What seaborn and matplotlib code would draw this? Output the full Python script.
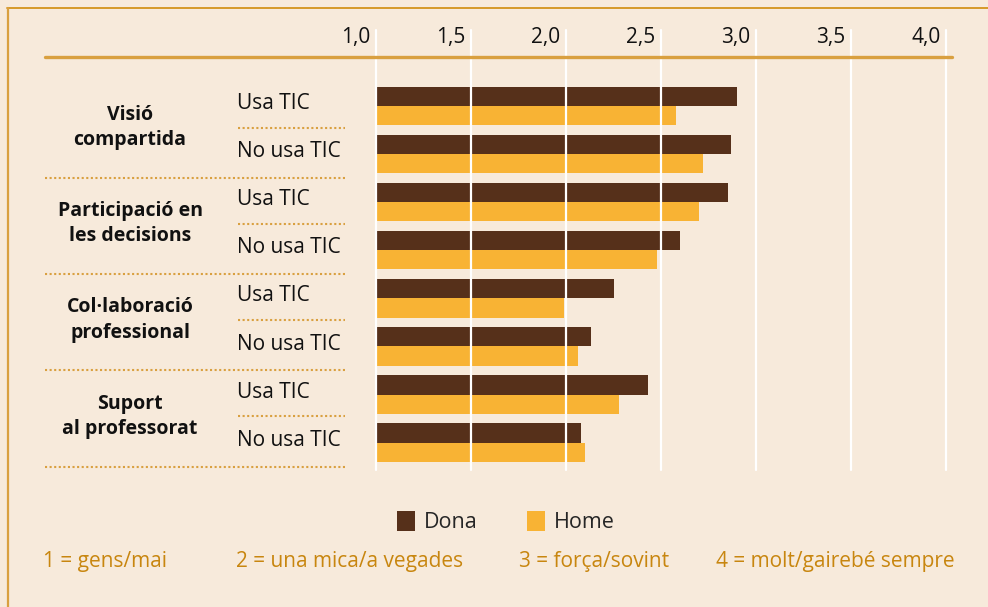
import seaborn as sns
import matplotlib.pyplot as plt
import matplotlib.transforms as mtransforms
from matplotlib.lines import Line2D
import pandas as pd

dimensions = ["Visió\ncompartida", "Participació en\nles decisions",
              "Col·laboració\nprofessional", "Suport\nal professorat"]
usage = ["Usa TIC", "No usa TIC"]
dona = [2.90, 2.87, 2.85, 2.60, 2.25, 2.13, 2.43, 2.08]
home = [2.58, 2.72, 2.70, 2.48, 1.99, 2.06, 2.28, 2.10]
ticks = [1.0, 1.5, 2.0, 2.5, 3.0, 3.5, 4.0]
tick_labels = ["1,0", "1,5", "2,0", "2,5", "3,0", "3,5", "4,0"]
scale_notes = ["1 = gens/mai", "2 = una mica/a vegades", "3 = força/sovint", "4 = molt/gairebé sempre"]

bg = "#f7eadb"
brown = "#56301a"
yellow = "#f8b334"
orange = "#d9a040"
note_col = "#c8860f"

rows = [f"{d}|{u}" for d in dimensions for u in usage]
df = pd.DataFrame({
    "row": rows * 2,
    "value": dona + home,
    "sexe": ["Dona"] * len(rows) + ["Home"] * len(rows),
})

sns.set_style("white")
plt.rcParams["font.family"] = ["Open Sans", "DejaVu Sans"]

W, H = 988, 607
fig = plt.figure(figsize=(W / 100, H / 100), dpi=100, facecolor=bg)


def fx(px):
    return px / W


def fy(py):
    return 1 - py / H


ax = fig.add_axes([fx(376), fy(470), fx(952) - fx(376), fy(30) - fy(470)])
ax.set_facecolor(bg)
sns.barplot(data=df, y="row", x="value", hue="sexe", orient="h",
            palette=[brown, yellow], width=0.8, saturation=1, linewidth=0,
            order=rows, hue_order=["Dona", "Home"], ax=ax)
ax.set_xlim(1.0, 4.03)
ax.set_ylim(7.57, -1.58)
ax.set_xticks([])
ax.set_yticks([])
ax.set_xlabel("")
ax.set_ylabel("")
for s in ax.spines.values():
    s.set_visible(False)

for t, lab in zip(ticks, tick_labels):
    ax.axvline(t, color="white", lw=1.6, zorder=5, clip_on=False)
    ax.annotate(lab, xy=(t, 0.982), xycoords=("data", "axes fraction"),
                xytext=(-4, 0), textcoords="offset points",
                ha="right", va="center", fontsize=15, color="#111111")

# legend
sns.move_legend(ax, "center", bbox_to_anchor=(fx(506), fy(522)),
                bbox_transform=fig.transFigure, ncol=2, frameon=False,
                title=None, fontsize=15.5, handlelength=0.85, handleheight=1.1,
                handletextpad=0.4, columnspacing=2.3)

# row labels
tr = mtransforms.blended_transform_factory(fig.transFigure, ax.transData)
for i, r in enumerate(rows):
    ax.text(fx(237), i - 0.05, r.split("|")[1], transform=tr, ha="left",
            va="center", fontsize=15, color="#111111")
for k, d in enumerate(dimensions):
    ax.text(fx(130), 2 * k + 0.45, d, transform=tr, ha="center", va="center",
            fontsize=14, fontweight="bold", color="#111111",
            multialignment="center", linespacing=1.35)
    ax.add_line(Line2D([fx(238), fx(345)], [2 * k + 0.45] * 2, transform=tr,
                       color=orange, lw=1.5, ls=(0, (1, 1.2)), clip_on=False))
    ax.add_line(Line2D([fx(45), fx(345)], [2 * k + 1.5] * 2, transform=tr,
                       color=orange, lw=1.5, ls=(0, (1, 1.2)), clip_on=False))

# frame lines
fig.add_artist(Line2D([fx(45), fx(952)], [fy(57), fy(57)], color=orange, lw=2.4))
fig.add_artist(Line2D([fx(7), fx(W)], [fy(8), fy(8)], color="#d4931a", lw=1.3))
fig.add_artist(Line2D([fx(7.5), fx(7.5)], [fy(8), 0], color=orange, lw=1.6))

# scale notes
for x0, note in zip([43, 236, 519, 716], scale_notes):
    fig.text(fx(x0), fy(561), note, ha="left", va="center",
             fontsize=15, color=note_col)

fig.savefig("out.png", dpi=100, facecolor=bg)
